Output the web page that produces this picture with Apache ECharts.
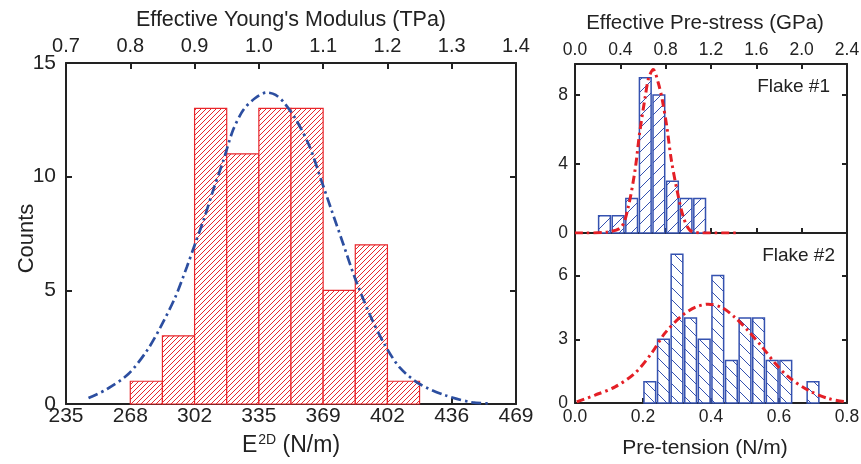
<!DOCTYPE html>
<html>
<head>
<meta charset="utf-8">
<script src="https://cdn.jsdelivr.net/npm/echarts@6/dist/echarts.min.js"></script>
<style>
html,body{margin:0;padding:0;background:#fff;}
#chart{width:861px;height:464px;}
</style>
</head>
<body>
<div id="chart"></div>
<script>
// ---------- DATA ----------
// Left histogram: effective Young's modulus (TPa) bins
const youngBinStart = [0.80, 0.85, 0.90, 0.95, 1.00, 1.05, 1.10, 1.15, 1.20];
const youngBinWidth = 0.05;
const youngCounts = [1, 3, 13, 11, 13, 13, 5, 7, 1];
// Fitted curve (TPa, counts)
const youngFitX = [0.735, 0.764, 0.797, 0.826, 0.847, 0.870, 0.888, 0.901, 0.914, 0.929, 0.945, 0.960, 0.976, 0.994, 1.012, 1.026, 1.040, 1.058, 1.079, 1.097, 1.113, 1.131, 1.149, 1.172, 1.195, 1.219, 1.250, 1.291, 1.332, 1.358];
const youngFitY = [0.26, 0.66, 1.32, 2.35, 3.38, 4.70, 6.03, 7.06, 8.09, 9.41, 10.73, 12.06, 12.94, 13.45, 13.70, 13.60, 13.23, 12.50, 11.32, 9.85, 8.53, 7.06, 5.58, 3.97, 2.65, 1.61, 0.88, 0.37, 0.07, 0.03];
const youngTopTicks = ['0.7', '0.8', '0.9', '1.0', '1.1', '1.2', '1.3', '1.4'];
const e2dTicks = ['235', '268', '302', '335', '369', '402', '436', '469'];

// Flake #1: effective pre-stress (GPa)
const flake1Centers = [0.26, 0.38, 0.50, 0.62, 0.74, 0.86, 0.98, 1.10];
const flake1BinWidth = 0.12;
const flake1Counts = [1, 1, 2, 9, 8, 3, 2, 2];
const flake1FitX = [0.00, 0.06, 0.29, 0.41, 0.47, 0.53, 0.57, 0.62, 0.65, 0.69, 0.735, 0.77, 0.81, 0.85, 0.90, 0.956, 1.014, 1.12, 1.43];
const flake1FitY = [0.00, 0.00, 0.06, 0.35, 1.51, 3.65, 5.79, 7.92, 8.99, 9.48, 8.70, 7.73, 6.17, 4.23, 2.49, 0.93, 0.16, 0.00, 0.00];
const preStressTicks = ['0.0', '0.4', '0.8', '1.2', '1.6', '2.0', '2.4'];

// Flake #2: pre-tension (N/m)
const flake2Centers = [0.22, 0.26, 0.30, 0.34, 0.38, 0.42, 0.46, 0.50, 0.54, 0.58, 0.62, 0.70];
const flake2BinWidth = 0.04;
const flake2Counts = [1, 3, 7, 4, 3, 6, 2, 4, 4, 2, 2, 1];
const flake2FitX = [0.005, 0.059, 0.118, 0.176, 0.2255, 0.265, 0.314, 0.353, 0.392, 0.431, 0.471, 0.510, 0.549, 0.588, 0.627, 0.686, 0.745, 0.799];
const flake2FitY = [0.05, 0.37, 0.76, 1.40, 2.35, 3.30, 4.10, 4.50, 4.65, 4.50, 4.02, 3.38, 2.67, 1.88, 1.24, 0.60, 0.21, 0.05];
const preTensionTicks = ['0.0', '0.2', '0.4', '0.6', '0.8'];

// ---------- STYLE ----------
const FONT = "'Liberation Sans', Arial, Helvetica, sans-serif";
const RED = '#e8262b';
const BLUE_LINE = '#2c4ea0';
const BLUE_BAR = '#3552b0';
const RED_LINE = '#e41f26';
const INK = '#222';

function hatch(color, size, dir, lw) {
  const c = document.createElement('canvas');
  c.width = size; c.height = size;
  const ctx = c.getContext('2d');
  ctx.fillStyle = '#fff';
  ctx.fillRect(0, 0, size, size);
  ctx.strokeStyle = color;
  ctx.lineWidth = lw;
  ctx.beginPath();
  if (dir === '/') {
    ctx.moveTo(-1, size + 1); ctx.lineTo(size + 1, -1);
    ctx.moveTo(-1, 1); ctx.lineTo(1, -1);
    ctx.moveTo(size - 1, size + 1); ctx.lineTo(size + 1, size - 1);
  } else {
    ctx.moveTo(-1, -1); ctx.lineTo(size + 1, size + 1);
    ctx.moveTo(size - 1, -1); ctx.lineTo(size + 1, 1);
    ctx.moveTo(-1, size - 1); ctx.lineTo(1, size + 1);
  }
  ctx.stroke();
  return { image: c, repeat: 'repeat' };
}

const redHatch = hatch(RED, 5, '/', 1);
const blueHatch1 = hatch(BLUE_BAR, 12, '/', 1);
const blueHatch2 = hatch(BLUE_BAR, 12, '\\', 1);

function histSeries(xIdx, yIdx, data, fill, stroke, lw, z) {
  return {
    type: 'custom',
    xAxisIndex: xIdx, yAxisIndex: yIdx, z: z,
    encode: { x: [0, 1], y: 2 },
    data: data,
    renderItem: function (params, api) {
      const p0 = api.coord([api.value(0), api.value(2)]);
      const p1 = api.coord([api.value(1), 0]);
      return {
        type: 'rect',
        shape: { x: p0[0], y: p0[1], width: p1[0] - p0[0], height: p1[1] - p0[1] },
        style: { fill: fill, stroke: stroke, lineWidth: lw }
      };
    }
  };
}

const youngBars = youngBinStart.map((s, i) => [s, s + youngBinWidth, youngCounts[i]]);
const f1Half = flake1BinWidth * 0.43;
const flake1Bars = flake1Centers.map((c, i) => [c - f1Half, c + f1Half, flake1Counts[i]]);
const f2Half = flake2BinWidth * 0.43;
const flake2Bars = flake2Centers.map((c, i) => [c - f2Half, c + f2Half, flake2Counts[i]]);

const frameLine = { show: true, onZero: false, lineStyle: { color: INK, width: 2 } };
const tickIn = (len) => ({ show: true, inside: true, length: len, lineStyle: { color: INK, width: 2 } });

function labelFrom(arr, min, step) {
  return function (v) {
    const i = Math.round((v - min) / step);
    return (Math.abs(min + i * step - v) < 1e-6 && arr[i] !== undefined) ? arr[i] : '';
  };
}

const option = {
  animation: false,
  backgroundColor: '#fff',
  textStyle: { fontFamily: FONT },
  grid: [
    { left: 66, top: 63, width: 450, height: 341, containLabel: false, outerBoundsMode: 'none' },
    { left: 575, top: 64, width: 272, height: 169, containLabel: false, outerBoundsMode: 'none' },
    { left: 575, top: 233, width: 272, height: 170, containLabel: false, outerBoundsMode: 'none' }
  ],
  xAxis: [
    { // 0 left bottom (E2D)
      gridIndex: 0, type: 'value', position: 'bottom', min: 0.7, max: 1.4, interval: 0.1,
      axisLine: frameLine, axisTick: tickIn(6), splitLine: { show: false },
      axisLabel: { color: INK, fontSize: 21, margin: 2, fontFamily: FONT, formatter: labelFrom(e2dTicks, 0.7, 0.1) },
      name: '{a|E}{s|2D}{a| (N/m)}', nameLocation: 'middle', nameGap: 29,
      nameTextStyle: { color: INK, fontFamily: FONT,
        rich: { a: { fontSize: 23, fontFamily: FONT, color: INK, lineHeight: 26 },
                s: { fontSize: 14, fontFamily: FONT, color: INK, verticalAlign: 'top', lineHeight: 26, padding: [0, 0, 0, 1] } } }
    },
    { // 1 left top (TPa)
      gridIndex: 0, type: 'value', position: 'top', min: 0.7, max: 1.4, interval: 0.1,
      axisLine: frameLine, axisTick: tickIn(6), splitLine: { show: false },
      axisLabel: { color: INK, fontSize: 20, margin: 7, fontFamily: FONT, formatter: labelFrom(youngTopTicks, 0.7, 0.1) },
      name: "Effective Young's Modulus (TPa)", nameLocation: 'middle', nameGap: 29,
      nameTextStyle: { color: INK, fontSize: 21.5, fontFamily: FONT }
    },
    { // 2 right-top top axis (GPa)
      gridIndex: 1, type: 'value', position: 'top', min: 0, max: 2.4, interval: 0.4,
      axisLine: frameLine, axisTick: tickIn(5), splitLine: { show: false },
      axisLabel: { color: INK, fontSize: 17.5, margin: 5, fontFamily: FONT, formatter: labelFrom(preStressTicks, 0, 0.4) },
      name: 'Effective Pre-stress (GPa)', nameLocation: 'middle', nameGap: 30,
      nameTextStyle: { color: INK, fontSize: 20.5, fontFamily: FONT, padding: [0, 12, 0, 0] }
    },
    { // 3 right-top bottom axis (GPa, no labels)
      gridIndex: 1, type: 'value', position: 'bottom', min: 0, max: 2.4, interval: 0.4,
      axisLine: frameLine, axisTick: tickIn(5), splitLine: { show: false },
      axisLabel: { show: false }
    },
    { // 4 right-bottom bottom axis (N/m)
      gridIndex: 2, type: 'value', position: 'bottom', min: 0, max: 0.8, interval: 0.2,
      axisLine: frameLine, axisTick: tickIn(5), splitLine: { show: false },
      axisLabel: { color: INK, fontSize: 17.5, margin: 5, fontFamily: FONT, formatter: labelFrom(preTensionTicks, 0, 0.2) },
      name: 'Pre-tension (N/m)', nameLocation: 'middle', nameGap: 35,
      nameTextStyle: { color: INK, fontSize: 21, fontFamily: FONT, padding: [0, 12, 0, 0] }
    },
    { // 5 right-bottom top axis line
      gridIndex: 2, type: 'value', position: 'top', min: 0, max: 0.8, interval: 0.2,
      axisLine: frameLine, axisTick: { show: false }, splitLine: { show: false },
      axisLabel: { show: false }
    }
  ],
  yAxis: [
    { gridIndex: 0, type: 'value', position: 'left', min: 0, max: 15, interval: 5,
      axisLine: frameLine, axisTick: tickIn(6), splitLine: { show: false },
      axisLabel: { color: INK, fontSize: 21, margin: 10, fontFamily: FONT },
      name: 'Counts', nameLocation: 'middle', nameGap: 28, nameRotate: 90, nameMoveOverlap: false,
      nameTextStyle: { color: INK, fontSize: 22, fontFamily: FONT, padding: [0, 10, 0, 0] } },
    { gridIndex: 0, type: 'value', position: 'right', min: 0, max: 15, interval: 5,
      axisLine: frameLine, axisTick: tickIn(6), splitLine: { show: false }, axisLabel: { show: false } },
    { gridIndex: 1, type: 'value', position: 'left', min: 0, max: 9.8, interval: 4,
      axisLine: frameLine, axisTick: tickIn(5), splitLine: { show: false },
      axisLabel: { color: INK, fontSize: 17.5, margin: 7, fontFamily: FONT, showMaxLabel: false } },
    { gridIndex: 1, type: 'value', position: 'right', min: 0, max: 9.8, interval: 4,
      axisLine: frameLine, axisTick: tickIn(5), splitLine: { show: false }, axisLabel: { show: false } },
    { gridIndex: 2, type: 'value', position: 'left', min: 0, max: 8, interval: 3,
      axisLine: frameLine, axisTick: tickIn(5), splitLine: { show: false },
      axisLabel: { color: INK, fontSize: 17.5, margin: 7, fontFamily: FONT, showMaxLabel: false } },
    { gridIndex: 2, type: 'value', position: 'right', min: 0, max: 8, interval: 3,
      axisLine: frameLine, axisTick: tickIn(5), splitLine: { show: false }, axisLabel: { show: false } }
  ],
  graphic: [
    { type: 'text', right: 31, top: 77, style: { text: 'Flake #1', font: '19px ' + FONT, fill: INK }, z: 100 },
    { type: 'text', right: 26, top: 246, style: { text: 'Flake #2', font: '19px ' + FONT, fill: INK }, z: 100 }
  ],
  series: [
    histSeries(0, 0, youngBars, redHatch, RED, 1.2, 2),
    { type: 'line', xAxisIndex: 0, yAxisIndex: 0, z: 5, showSymbol: false, smooth: 0.3,
      data: youngFitX.map((x, i) => [x, youngFitY[i]]),
      lineStyle: { color: BLUE_LINE, width: 2.7, type: [10, 4, 2.5, 4] } },
    histSeries(3, 2, flake1Bars, blueHatch1, BLUE_BAR, 1.5, 2),
    { type: 'line', xAxisIndex: 3, yAxisIndex: 2, z: 5, showSymbol: false, smooth: 0.3,
      data: flake1FitX.map((x, i) => [x, flake1FitY[i]]),
      lineStyle: { color: RED_LINE, width: 3, type: [8, 4, 2.5, 4] } },
    histSeries(4, 4, flake2Bars, blueHatch2, BLUE_BAR, 1.5, 2),
    { type: 'line', xAxisIndex: 4, yAxisIndex: 4, z: 5, showSymbol: false, smooth: 0.3,
      data: flake2FitX.map((x, i) => [x, flake2FitY[i]]),
      lineStyle: { color: RED_LINE, width: 3, type: [8, 4, 2.5, 4] } }
  ]
};

const chart = echarts.init(document.getElementById('chart'), null, { renderer: 'canvas' });
chart.setOption(option);
</script>
</body>
</html>
